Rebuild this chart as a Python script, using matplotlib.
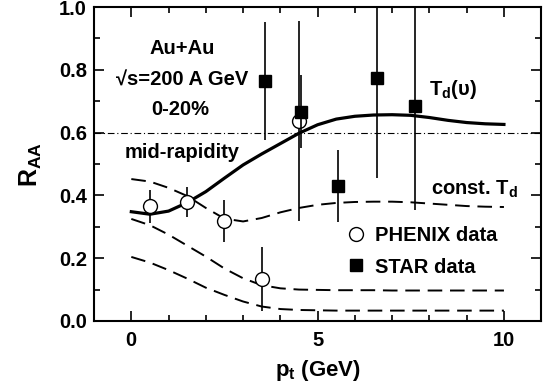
import numpy as np
import matplotlib
matplotlib.use("Agg")
import matplotlib.pyplot as plt
from matplotlib.lines import Line2D

plt.rcParams['font.family'] = ['Liberation Sans', 'DejaVu Sans']
plt.rcParams['font.weight'] = 'bold'
plt.rcParams['mathtext.fontset'] = 'custom'
plt.rcParams['mathtext.rm'] = 'Liberation Sans:bold'
plt.rcParams['mathtext.it'] = 'Liberation Sans:bold'
plt.rcParams['mathtext.bf'] = 'Liberation Sans:bold'

# PHENIX data (open circles)
phenix_pt = [0.5, 1.5, 2.5, 3.5, 4.5]
phenix_raa = [0.365, 0.379, 0.318, 0.134, 0.637]
phenix_err = [0.053, 0.048, 0.067, 0.102, 0.32]

# STAR data (filled squares)
star_pt = [3.6, 4.55, 5.55, 6.6, 7.6]
star_raa = [0.764, 0.666, 0.430, 0.774, 0.685]
star_err = [0.187, 0.116, 0.115, 0.32, 0.33]

# model curves
curve_pt = [0.0, 0.5, 1.0, 1.5, 2.0, 2.5, 3.0, 3.5, 4.0, 4.5, 5.0,
            5.5, 6.0, 6.5, 7.0, 7.5, 8.0, 8.5, 9.0, 9.5, 10.0]
td_v = [0.348, 0.340, 0.350, 0.377, 0.412, 0.455, 0.497, 0.532, 0.565, 0.598, 0.625,
        0.643, 0.652, 0.656, 0.657, 0.655, 0.648, 0.639, 0.632, 0.628, 0.626]
const_td_1 = [0.452, 0.444, 0.424, 0.398, 0.360, 0.326, 0.317, 0.328, 0.346, 0.360, 0.370,
              0.376, 0.379, 0.380, 0.380, 0.378, 0.374, 0.370, 0.366, 0.364, 0.363]
const_td_2 = [0.325, 0.305, 0.275, 0.240, 0.205, 0.167, 0.136, 0.114, 0.104, 0.100, 0.099,
              0.098, 0.098, 0.098, 0.097, 0.097, 0.097, 0.097, 0.097, 0.097, 0.097]
const_td_3 = [0.204, 0.186, 0.162, 0.135, 0.106, 0.083, 0.062, 0.046, 0.038, 0.035, 0.034,
              0.033, 0.033, 0.033, 0.033, 0.033, 0.033, 0.033, 0.033, 0.033, 0.033]

fs = 14.5

fig = plt.figure(figsize=(5.5, 3.9), dpi=100)
ax = fig.add_axes([0.171, 0.177, 0.813, 0.805])

ax.axhline(0.6, color='black', lw=0.8, ls=(0, (6, 2.5, 1, 2.5)))

ax.plot(curve_pt, td_v, color='black', lw=2.3)
for c in [const_td_1, const_td_2, const_td_3]:
    ax.plot(curve_pt, c, color='black', lw=1.4, ls=(0, (7.5, 4)))

ax.errorbar(phenix_pt, phenix_raa, yerr=phenix_err, fmt='o', ms=10, mfc='white',
            mec='black', mew=1.0, ecolor='black', elinewidth=1.2, capsize=0, zorder=5)
ax.errorbar(star_pt, star_raa, yerr=star_err, fmt='s', ms=8.5, mfc='black',
            mec='black', ecolor='black', elinewidth=1.2, capsize=0, zorder=6)

ax.set_xlim(-1, 11)
ax.set_ylim(0, 1)
ax.set_xticks([0, 5, 10])
ax.set_xticks(range(-1, 12), minor=True)
ax.set_yticks([0.0, 0.2, 0.4, 0.6, 0.8, 1.0])
ax.set_yticklabels(['0.0', '0.2', '0.4', '0.6', '0.8', '1.0'])
ax.set_yticks(np.arange(0.1, 1.0, 0.2), minor=True)
ax.tick_params(which='both', direction='in', top=True, right=True, labelsize=fs, width=1.2)
ax.tick_params(which='major', length=7)
ax.tick_params(which='minor', length=4)
ax.tick_params(axis='x', pad=7)
ax.tick_params(axis='y', pad=5)
for s in ax.spines.values():
    s.set_linewidth(1.5)

ax.set_xlabel(r'p$_\mathregular{t}$ (GeV)', fontsize=16, fontweight='bold', labelpad=6)
ax.set_ylabel(r'R$_\mathregular{AA}$', fontsize=18, fontweight='bold', labelpad=11)

tk = dict(fontsize=fs, fontweight='bold', ha='center', va='center')
ax.text(1.36, 0.869, 'Au+Au', **tk)
ax.text(1.36, 0.767, '√s=200 A GeV', **tk)
ax.text(1.30, 0.672, '0-20%', **tk)
ax.text(1.36, 0.538, 'mid-rapidity', **tk)
ax.text(8.0, 0.736, r'T$_\mathregular{d}$(υ)', fontsize=fs, fontweight='bold', ha='left', va='center')
ax.text(8.05, 0.42, r'const. T$_\mathregular{d}$', fontsize=fs, fontweight='bold', ha='left', va='center')

handles = [Line2D([], [], ls='none', marker='o', ms=10, mfc='white', mec='black'),
           Line2D([], [], ls='none', marker='s', ms=8.5, mfc='black', mec='black')]
ax.legend(handles, ['PHENIX data', 'STAR data'], loc='center left', frameon=False,
          bbox_to_anchor=(0.563, 0.222), fontsize=fs, handletextpad=0.45,
          labelspacing=0.62, handlelength=1.0, borderaxespad=0, borderpad=0)

fig.savefig('out.png', dpi=100)
